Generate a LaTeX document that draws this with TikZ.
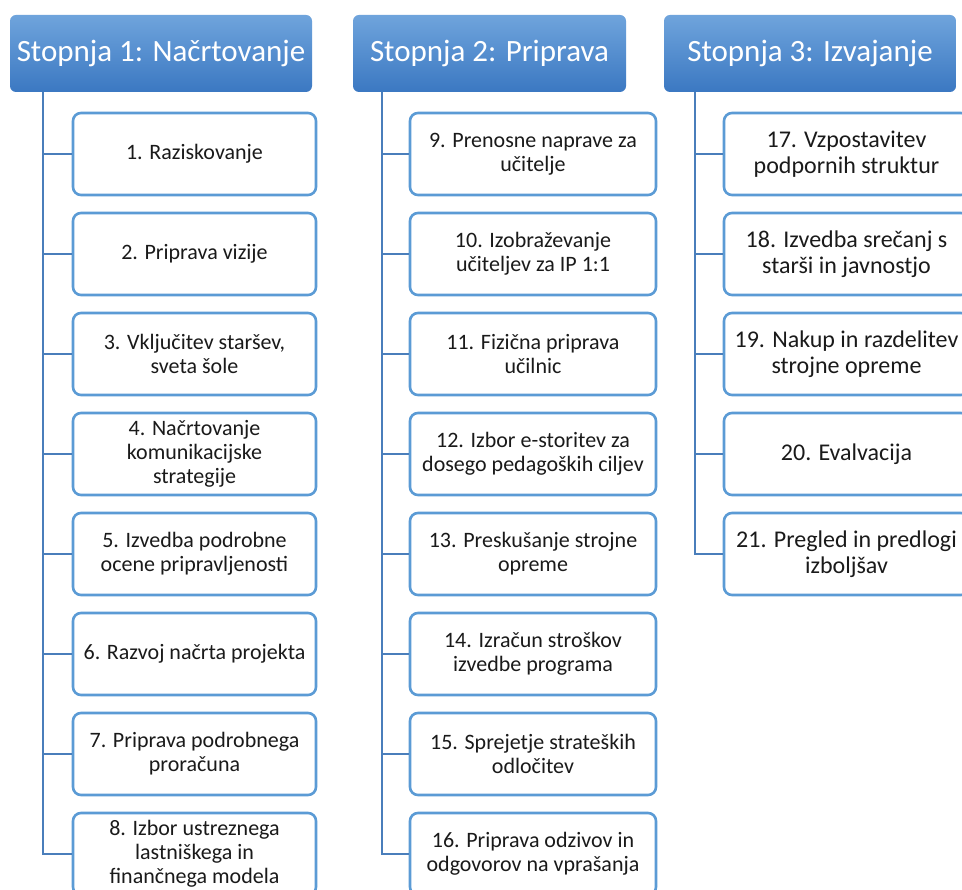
\documentclass[tikz,border=0pt]{standalone}
\usepackage{fontspec}
\setmainfont{Carlito}
\usetikzlibrary{calc}
\definecolor{headtop}{HTML}{6FA4DC}
\definecolor{headbot}{HTML}{3B78C2}
\definecolor{boxline}{HTML}{5B9BD5}
\definecolor{trunk}{HTML}{4A7EBB}
\definecolor{ink}{HTML}{1A1A1A}
\tikzset{
  header/.style={rounded corners=6pt, top color=headtop, bottom color=headbot,
    draw=none, text=white, minimum height=77pt, inner sep=0pt,
    font=\fontsize{31}{36}\selectfont},
  item/.style={draw=boxline, line width=2.6pt, rounded corners=8pt, fill=white,
    minimum height=82pt, inner sep=0pt, align=center, text=ink,
    font=\fontsize{22}{24}\selectfont},
  itembig/.style={item, font=\fontsize{24}{26}\selectfont},
  link/.style={draw=trunk, line width=2.6pt}
}
\begin{document}
\begin{tikzpicture}[x=1pt, y=-1pt]
\useasboundingbox (0,0) rectangle (962,890);
\clip (0,0) rectangle (962,890);
\fill[white] (0,0) rectangle (962,890);

% column headers
\node[header, minimum width=302pt] (h1) at (161,53.5) {Stopnja 1: Načrtovanje};
\node[header, minimum width=273pt] (h2) at (489.5,53.5) {Stopnja 2: Priprava};
\node[header, minimum width=292pt] (h3) at (810,53.5) {Stopnja 3: Izvajanje};

% trunk starting points under each header
\coordinate (t1) at ($(h1.south west)+(33,0)$);
\coordinate (t2) at ($(h2.south west)+(29,0)$);
\coordinate (t3) at ($(h3.south west)+(31,0)$);

% column 1
\node[item, minimum width=243pt] (b1) at (194.5,154) {1. Raziskovanje};
\node[item, minimum width=243pt] (b2) at (194.5,254) {2. Priprava vizije};
\node[item, minimum width=243pt] (b3) at (194.5,354) {3. Vključitev staršev,\\sveta šole};
\node[item, minimum width=243pt] (b4) at (194.5,454) {4. Načrtovanje\\komunikacijske\\strategije};
\node[item, minimum width=243pt] (b5) at (194.5,554) {5. Izvedba podrobne\\ocene pripravljenosti};
\node[item, minimum width=243pt] (b6) at (194.5,654) {6. Razvoj načrta projekta};
\node[item, minimum width=243pt] (b7) at (194.5,754) {7. Priprava podrobnega\\proračuna};
\node[item, minimum width=243pt] (b8) at (194.5,854) {8. Izbor ustreznega\\lastniškega in\\finančnega modela};

% column 2
\node[item, minimum width=246pt] (b9) at (533,154) {9. Prenosne naprave za\\učitelje};
\node[item, minimum width=246pt] (b10) at (533,254) {10. Izobraževanje\\učiteljev za IP 1:1};
\node[item, minimum width=246pt] (b11) at (533,354) {11. Fizična priprava\\učilnic};
\node[item, minimum width=246pt] (b12) at (533,454) {12. Izbor e-storitev za\\dosego pedagoških ciljev};
\node[item, minimum width=246pt] (b13) at (533,554) {13. Preskušanje strojne\\opreme};
\node[item, minimum width=246pt] (b14) at (533,654) {14. Izračun stroškov\\izvedbe programa};
\node[item, minimum width=246pt] (b15) at (533,754) {15. Sprejetje strateških\\odločitev};
\node[item, minimum width=246pt] (b16) at (533,854) {16. Priprava odzivov in\\odgovorov na vprašanja};

% column 3
\node[itembig, minimum width=245pt] (b17) at (846.5,154) {17. Vzpostavitev\\podpornih struktur};
\node[itembig, minimum width=245pt] (b18) at (846.5,254) {18. Izvedba srečanj s\\starši in javnostjo};
\node[itembig, minimum width=245pt] (b19) at (846.5,354) {19. Nakup in razdelitev\\strojne opreme};
\node[itembig, minimum width=245pt] (b20) at (846.5,454) {20. Evalvacija};
\node[itembig, minimum width=245pt] (b21) at (846.5,554) {21. Pregled in predlogi\\izboljšav};

% connectors from each trunk to its boxes
\foreach \b in {1,...,8} \draw[link] (t1) |- (b\b.west);
\foreach \b in {9,...,16} \draw[link] (t2) |- (b\b.west);
\foreach \b in {17,...,21} \draw[link] (t3) |- (b\b.west);
\end{tikzpicture}
\end{document}
